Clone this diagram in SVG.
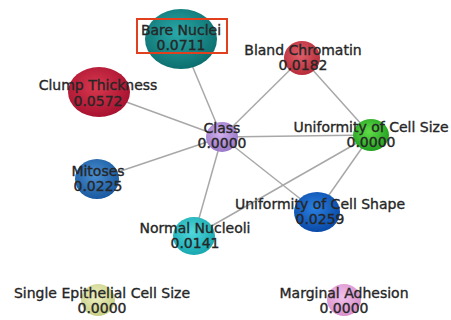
<svg xmlns="http://www.w3.org/2000/svg" width="451" height="320" viewBox="0 0 451 320">
<defs>
<style>
.lbl{font-family:"DejaVu Sans","Open Sans",sans-serif;font-size:14px;fill:#262626;stroke:#262626;stroke-width:0.35;text-anchor:middle;}
.edge{stroke:#a8a8a8;stroke-width:1.5;fill:none;}
</style>
<radialGradient id="gBare" cx="0.45" cy="0.4" r="0.6"><stop offset="0" stop-color="#2aa8a8"/><stop offset="1" stop-color="#0d6f6f"/></radialGradient>
<radialGradient id="gBland" cx="0.45" cy="0.4" r="0.6"><stop offset="0" stop-color="#e0606a"/><stop offset="1" stop-color="#b82c3a"/></radialGradient>
<radialGradient id="gClump" cx="0.45" cy="0.4" r="0.6"><stop offset="0" stop-color="#d8384e"/><stop offset="1" stop-color="#a81230"/></radialGradient>
<radialGradient id="gClass" cx="0.45" cy="0.4" r="0.6"><stop offset="0" stop-color="#d0b0ec"/><stop offset="1" stop-color="#9a78c8"/></radialGradient>
<radialGradient id="gSize" cx="0.45" cy="0.4" r="0.6"><stop offset="0" stop-color="#60dc48"/><stop offset="1" stop-color="#22a020"/></radialGradient>
<radialGradient id="gMit" cx="0.45" cy="0.4" r="0.6"><stop offset="0" stop-color="#4a8ed0"/><stop offset="1" stop-color="#1a5aa0"/></radialGradient>
<radialGradient id="gShape" cx="0.45" cy="0.4" r="0.6"><stop offset="0" stop-color="#2a80e0"/><stop offset="1" stop-color="#0a4aa8"/></radialGradient>
<radialGradient id="gNorm" cx="0.45" cy="0.4" r="0.6"><stop offset="0" stop-color="#50d8dc"/><stop offset="1" stop-color="#18a8b0"/></radialGradient>
<radialGradient id="gSingle" cx="0.45" cy="0.4" r="0.6"><stop offset="0" stop-color="#eef0c0"/><stop offset="1" stop-color="#c8d088"/></radialGradient>
<radialGradient id="gMarg" cx="0.45" cy="0.4" r="0.6"><stop offset="0" stop-color="#f2c0ea"/><stop offset="1" stop-color="#d890cc"/></radialGradient>
</defs>
<rect width="451" height="320" fill="#ffffff"/>
<g id="connectors">
<line class="edge" x1="181" y1="39" x2="222" y2="137"/>
<line class="edge" x1="99" y1="92" x2="222" y2="137"/>
<line class="edge" x1="97" y1="179" x2="222" y2="137"/>
<line class="edge" x1="194" y1="236" x2="222" y2="137"/>
<line class="edge" x1="302" y1="58" x2="222" y2="137"/>
<line class="edge" x1="371" y1="135" x2="222" y2="137"/>
<line class="edge" x1="317" y1="212" x2="222" y2="137"/>
<line class="edge" x1="302" y1="58" x2="371" y2="135"/>
<line class="edge" x1="371" y1="135" x2="194" y2="236"/>
<line class="edge" x1="371" y1="135" x2="317" y2="212"/>
</g>
<g id="bare-nuclei">
<ellipse cx="181" cy="39" rx="36" ry="30" fill="url(#gBare)"/>
<text class="lbl" x="181" y="35">Bare Nuclei</text>
<text class="lbl" x="181" y="50">0.0711</text>
<rect x="137" y="19" width="90" height="34" fill="none" stroke="#e0401e" stroke-width="2"/>
</g>
<g id="bland-chromatin">
<ellipse cx="302" cy="58" rx="18" ry="17" fill="url(#gBland)"/>
<text class="lbl" x="303" y="55">Bland Chromatin</text>
<text class="lbl" x="303" y="70">0.0182</text>
</g>
<g id="clump-thickness">
<ellipse cx="99" cy="92" rx="31" ry="25" fill="url(#gClump)"/>
<text class="lbl" x="98" y="90">Clump Thickness</text>
<text class="lbl" x="98" y="106">0.0572</text>
</g>
<g id="class">
<ellipse cx="222" cy="137" rx="16" ry="15" fill="url(#gClass)"/>
<text class="lbl" x="222" y="133">Class</text>
<text class="lbl" x="222" y="148">0.0000</text>
</g>
<g id="uniformity-cell-size">
<ellipse cx="371" cy="135" rx="18" ry="16" fill="url(#gSize)"/>
<text class="lbl" x="371" y="132">Uniformity of Cell Size</text>
<text class="lbl" x="371" y="147">0.0000</text>
</g>
<g id="mitoses">
<ellipse cx="97" cy="179" rx="22" ry="20" fill="url(#gMit)"/>
<text class="lbl" x="98" y="176">Mitoses</text>
<text class="lbl" x="98" y="191">0.0225</text>
</g>
<g id="uniformity-cell-shape">
<ellipse cx="317" cy="212" rx="23" ry="20" fill="url(#gShape)"/>
<text class="lbl" x="320" y="209">Uniformity of Cell Shape</text>
<text class="lbl" x="320" y="224">0.0259</text>
</g>
<g id="normal-nucleoli">
<ellipse cx="194" cy="236" rx="21" ry="19" fill="url(#gNorm)"/>
<text class="lbl" x="195" y="233">Normal Nucleoli</text>
<text class="lbl" x="195" y="248">0.0141</text>
</g>
<g id="single-epithelial-cell-size">
<ellipse cx="98" cy="300" rx="17" ry="16" fill="url(#gSingle)"/>
<text class="lbl" x="102" y="298">Single Epithelial Cell Size</text>
<text class="lbl" x="102" y="313">0.0000</text>
</g>
<g id="marginal-adhesion">
<ellipse cx="344" cy="300" rx="17" ry="16" fill="url(#gMarg)"/>
<text class="lbl" x="344" y="298">Marginal Adhesion</text>
<text class="lbl" x="344" y="313">0.0000</text>
</g>
</svg>
